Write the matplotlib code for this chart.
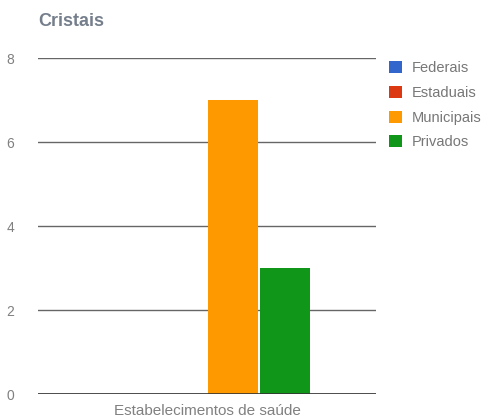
import numpy as np
import matplotlib.pyplot as plt

categories = ['Estabelecimentos de saúde']
series = ['Federais', 'Estaduais', 'Municipais', 'Privados']
values = [0, 0, 7, 3]
colors = ['#3366cc', '#dc3912', '#ff9900', '#109618']

plt.rcParams['font.family'] = ['Liberation Sans', 'DejaVu Sans']

fig = plt.figure(figsize=(4.84, 4.19), dpi=100)
ax = fig.add_axes([38/484, 25/419, 338/484, 336/419])

offsets = [-0.2308, -0.0769, 0.0769, 0.2308]
width = 0.148
for s, v, c, o in zip(series, values, colors, offsets):
    ax.bar(0 + o, v, width=width, color=c, label=s, zorder=3)

ax.set_xlim(-0.5, 0.5)
ax.set_ylim(0, 8)
ax.set_yticks([0, 2, 4, 6, 8])
ax.set_xticks([0])
ax.set_xticklabels(categories)
ax.tick_params(axis='both', length=0, labelsize=10, colors='#808080', pad=7)
ax.tick_params(axis='x', labelsize=11)
ax.tick_params(axis='y', pad=17)
for s in ax.spines.values():
    s.set_visible(False)
ax.grid(axis='y', color='#666666', linewidth=1, zorder=0)
ax.axhline(0, color='#333333', linewidth=1.2, zorder=4)

fig.text(38/484, 1 - 21/419, 'Cristais', fontsize=13, fontweight='bold',
         color='#757f8c', va='center', ha='left')

ax.legend(loc='upper left', bbox_to_anchor=(351/338, 0.99),
          frameon=False, fontsize=10.5, handlelength=0.9, handleheight=0.9,
          handletextpad=0.65, labelspacing=0.72, labelcolor='#777777',
          borderaxespad=0, borderpad=0)

plt.savefig('out.png', dpi=100)
